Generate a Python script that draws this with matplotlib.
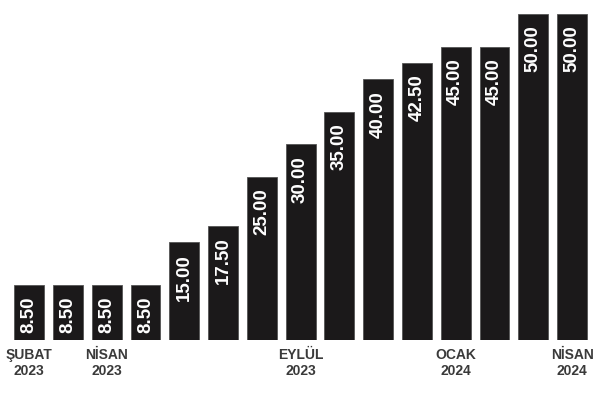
import matplotlib.pyplot as plt

values = [8.5, 8.5, 8.5, 8.5, 15.0, 17.5, 25.0, 30.0, 35.0, 40.0, 42.5, 45.0, 45.0, 50.0, 50.0]
value_labels = ["8.50", "8.50", "8.50", "8.50", "15.00", "17.50", "25.00", "30.00",
                "35.00", "40.00", "42.50", "45.00", "45.00", "50.00", "50.00"]
tick_pos = [0, 2, 7, 11, 14]
tick_labels = ["ŞUBAT\n2023", "NİSAN\n2023", "EYLÜL\n2023", "OCAK\n2024", "NİSAN\n2024"]

FONT = ["Liberation Sans", "DejaVu Sans"]

fig = plt.figure(figsize=(6.0, 3.93), dpi=100)
ax = fig.add_axes([0, 1 - 340 / 393, 1, 326 / 393])

x = list(range(len(values)))
ax.bar(x, values, width=0.77, color="#1b191a", edgecolor="#555555", linewidth=0.6)

for xi, v, lab in zip(x, values, value_labels):
    ax.text(xi, v - 1.8, lab, rotation=90, ha="center", va="top",
            color="white", fontsize=13.5, fontweight="bold", family=FONT)

for xi, lab in zip(tick_pos, tick_labels):
    ax.text(xi, -1.3, lab, ha="center", va="top", color="#3a3a3a",
            fontsize=10, fontweight="bold", linespacing=1.15, family=FONT)

ax.set_xlim(-0.75, 14.72)
ax.set_ylim(0, 50)
ax.axis("off")

fig.savefig("out.png", dpi=100)
